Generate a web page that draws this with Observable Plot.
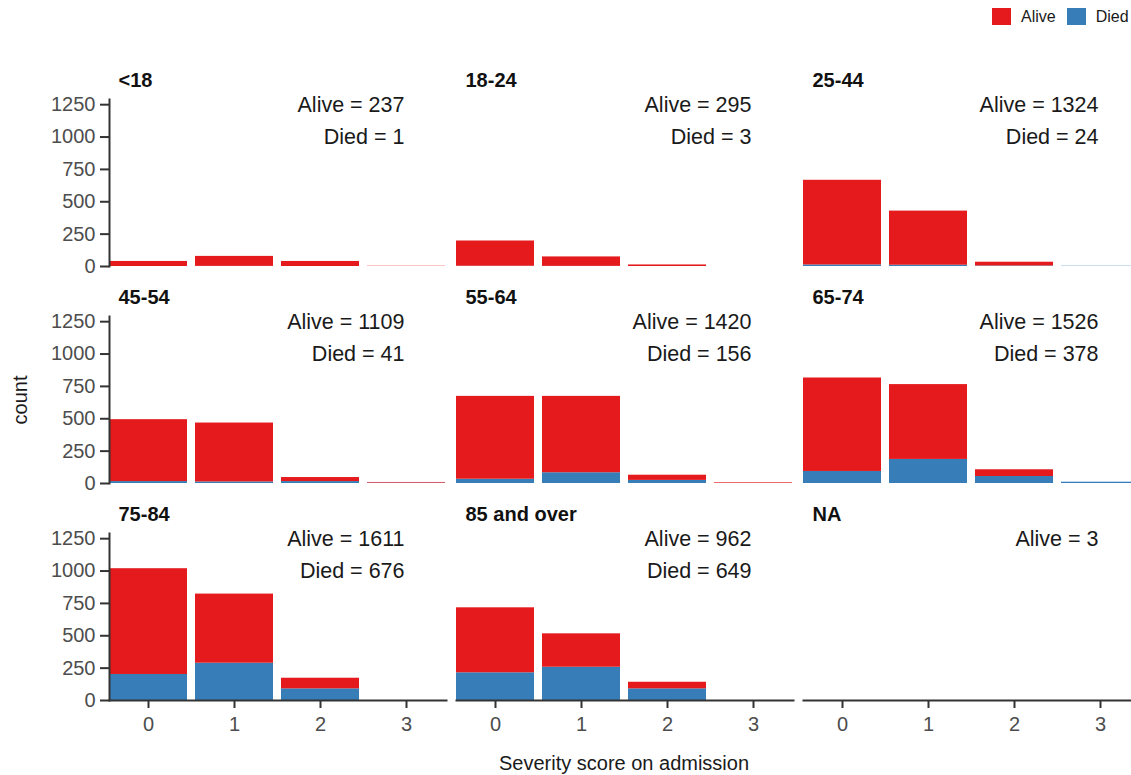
<!DOCTYPE html>
<html>
<head>
<meta charset="utf-8">
<script src="https://cdn.jsdelivr.net/npm/d3@7"></script>
<script src="https://cdn.jsdelivr.net/npm/@observablehq/plot@0.6"></script>
<style>
  html, body { margin: 0; padding: 0; background: white; }
  #wrap { position: relative; width: 1131px; height: 775px; overflow: hidden; background: white;
          font-family: "Liberation Sans", Arial, Helvetica, sans-serif; }
  #wrap svg { position: absolute; left: 0; top: 0; max-width: none !important; z-index: 0; }
  #legend { position: absolute; left: 992px; top: 8px; display: flex; align-items: center;
            font-size: 16px; color: #1a1a1a; height: 17px; z-index: 2; }
  #legend .sw { width: 19px; height: 17px; display: inline-block; }
</style>
</head>
<body>
<div id="wrap">
  <div id="legend"></div>
</div>
<script>
// ---- data ----
const ageGroups = ["<18", "18-24", "25-44", "45-54", "55-64", "65-74", "75-84", "85 and over", "NA"];
const severity = [0, 1, 2, 3];
const outcomes = ["Alive", "Died"];
const outcomeColors = ["#e41a1c", "#377eb8"];

// counts per age group, by severity score 0..3
const aliveCounts = [
  [39, 77, 39, 2],
  [195, 73, 12, 0],
  [654, 418, 29, 0],
  [478, 455, 31, 5],
  [640, 590, 40, 5],
  [722, 578, 52, 0],
  [817, 534, 82, 0],
  [502, 258, 51, 0],
  [0, 0, 0, 0]
];
const diedCounts = [
  [0, 1, 0, 0],
  [2, 1, 0, 0],
  [12, 10, 4, 2],
  [15, 12, 15, 3],
  [33, 83, 24, 0],
  [93, 186, 54, 10],
  [201, 288, 90, 0],
  [214, 257, 90, 0],
  [0, 0, 0, 0]
];
// totals annotated in each panel
const aliveTotals = [237, 295, 1324, 1109, 1420, 1526, 1611, 962, 3];
const diedTotals = [1, 3, 24, 41, 156, 378, 676, 649, null];

const yTicks = [0, 250, 500, 750, 1000, 1250];

// ---- build tables ----
const bars = [];
ageGroups.forEach((age, i) => {
  severity.forEach((s, j) => {
    const col = i % 3, row = Math.floor(i / 3);
    if (diedCounts[i][j] > 0) bars.push({age, col, row, severity: s, outcome: "Died", count: diedCounts[i][j]});
    if (aliveCounts[i][j] > 0) bars.push({age, col, row, severity: s, outcome: "Alive", count: aliveCounts[i][j]});
  });
});
const panels = ageGroups.map((age, i) => ({age, col: i % 3, row: Math.floor(i / 3)}));
const notes = [];
ageGroups.forEach((age, i) => {
  const col = i % 3, row = Math.floor(i / 3);
  notes.push({col, row, severity: 3, y: 1250, label: `Alive = ${aliveTotals[i]}`});
  if (diedTotals[i] != null) notes.push({col, row, severity: 3, y: 1000, label: `Died = ${diedTotals[i]}`});
});

const font = "'Liberation Sans', Arial, Helvetica, sans-serif";

const chart = Plot.plot({
  width: 1145,
  height: 775,
  marginTop: 99,
  marginBottom: 75,
  marginLeft: 108,
  marginRight: 3,
  style: {fontFamily: font, background: "white", maxWidth: "none"},
  fx: {domain: [0, 1, 2], paddingInner: 0.0287, paddingOuter: 0, axis: null},
  fy: {domain: [0, 1, 2], paddingInner: 0.2318, paddingOuter: 0, axis: null},
  x: {domain: severity, paddingInner: 0.09, paddingOuter: 0, axis: null},
  y: {domain: [0, 1290], axis: null},
  color: {domain: outcomes, range: outcomeColors},
  marks: [
    Plot.barY(bars, {
      fx: "col", fy: "row", x: "severity", y: "count",
      fill: "outcome", order: ["Died", "Alive"]
    }),
    Plot.frame({anchor: "left", facetAnchor: "left", stroke: "#333", strokeWidth: 2}),
    Plot.frame({anchor: "bottom", facetAnchor: "bottom", stroke: "#333", strokeWidth: 2}),
    Plot.axisY({
      ticks: yTicks, tickFormat: d => String(d), facetAnchor: "left", tickSize: 9, tickPadding: 5,
      fontSize: 20, fill: "#4d4d4d", stroke: "#333", strokeWidth: 2, label: null
    }),
    Plot.axisX({
      facetAnchor: "bottom", tickSize: 8, tickPadding: 8,
      fontSize: 20, fill: "#4d4d4d", stroke: "#333", strokeWidth: 2, label: null
    }),
    Plot.text(panels, {
      fx: "col", fy: "row", text: "age", frameAnchor: "top-left",
      textAnchor: "start", lineAnchor: "bottom", dx: 9, dy: -13,
      fontWeight: "bold", fontSize: 20, fill: "#111"
    }),
    Plot.text(notes, {
      fx: "col", fy: "row", x: "severity", y: "y", text: "label",
      textAnchor: "end", lineAnchor: "middle", dx: -2,
      fontSize: 21.5, fill: "#1a1a1a"
    }),
    Plot.text(["count"], {
      facet: "super", frameAnchor: "left", rotate: -90, textAnchor: "middle",
      lineAnchor: "middle", dx: -89, fontSize: 20, fill: "#1a1a1a"
    }),
    Plot.text(["Severity score on admission"], {
      facet: "super", frameAnchor: "bottom", textAnchor: "middle",
      lineAnchor: "bottom", dy: 69, dx: -1, fontSize: 20, fill: "#1a1a1a"
    })
  ]
});
chart.style.maxWidth = "none";
document.getElementById("wrap").appendChild(chart);

// legend
const legend = document.getElementById("legend");
outcomes.forEach((o, k) => {
  const sw = document.createElement("span");
  sw.className = "sw";
  sw.style.background = outcomeColors[k];
  sw.style.marginRight = "10px";
  legend.appendChild(sw);
  const t = document.createElement("span");
  t.textContent = o;
  if (k === 0) t.style.marginRight = "11px";
  legend.appendChild(t);
});
</script>
</body>
</html>
